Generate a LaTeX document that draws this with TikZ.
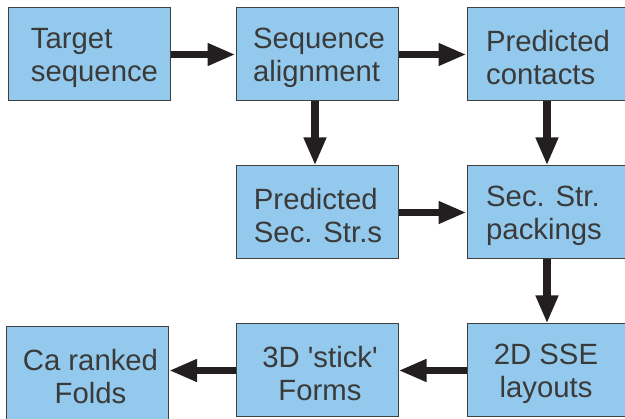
\documentclass[tikz,border=0pt]{standalone}
\usepackage{fontspec}
\setmainfont{Liberation Sans}
\usetikzlibrary{arrows.meta}
\definecolor{boxfill}{RGB}{147,201,236}
\definecolor{boxedge}{RGB}{64,64,64}
\definecolor{inkgray}{RGB}{58,58,58}
\definecolor{arrowink}{RGB}{35,31,32}
\tikzset{
  stage/.style={draw=boxedge, line width=1pt, fill=boxfill,
    minimum width=162pt, minimum height=93pt, inner sep=0pt},
  caption/.style={text=inkgray, inner sep=0pt,
    font=\fontsize{29.3}{33}\selectfont},
  captionleft/.style={caption, align=left},
  captionmid/.style={caption, align=center},
  flow/.style={draw=arrowink, line width=7.5pt,
    -{Triangle[length=28pt,width=21pt]}}
}
\begin{document}
\begin{tikzpicture}[x=1pt,y=-1pt]
  \useasboundingbox (0,0) rectangle (625,419);
  % boxes: top row
  \node[stage] (target)   at (89,54.5)   {};
  \node[stage] (align)    at (317,54.5)  {};
  \node[stage] (contacts) at (548,54.5)  {};
  % middle row
  \node[stage] (sse)      at (317,212.5) {};
  \node[stage] (packing)  at (548,212.5) {};
  % bottom row
  \node[stage] (layout)   at (548,370.5) {};
  \node[stage] (stick)    at (317,370.5) {};
  \node[stage] (folds)    at (87.5,373.5) {};
  % captions
  \node[captionleft] (targetT)   at ([shift={(5.5,3.5)}]target.center)   {Target\\sequence};
  \node[captionleft] (alignT)    at ([shift={(2,3.5)}]align.center)      {Sequence\\alignment};
  \node[captionleft] (contactsT) at ([shift={(0,3.5)}]contacts.center)   {Predicted\\contacts};
  \node[captionleft] (sseT)      at ([shift={(1,3.5)}]sse.center)        {Predicted\\Sec. Str.s};
  \node[captionleft] (packingT)  at ([shift={(-4,3.5)}]packing.center)   {Sec. Str.\\packings};
  \node[captionmid]  (layoutT)   at ([shift={(-2,3.5)}]layout.center)    {2D SSE\\layouts};
  \node[captionmid]  (stickT)    at ([shift={(3,3.5)}]stick.center)      {3D \textquotesingle stick\textquotesingle\\Forms};
  \node[captionmid]  (foldsT)    at ([shift={(3,3.5)}]folds.center)      {Ca ranked\\Folds};
  % connectors
  \draw[flow] (target) -- (align);
  \draw[flow] (align) -- (contacts);
  \draw[flow] ([xshift=-2pt]align.south) -- ([xshift=-2pt]sse.north);
  \draw[flow] ([xshift=-1pt]contacts.south) -- ([xshift=-1pt]packing.north);
  \draw[flow] (sse) -- (packing);
  \draw[flow] ([xshift=-1pt]packing.south) -- ([xshift=-1pt]layout.north);
  \draw[flow] (layout) -- (stick);
  \draw[flow] (stick.west) -- (stick.west -| folds.east);
\end{tikzpicture}
\end{document}
